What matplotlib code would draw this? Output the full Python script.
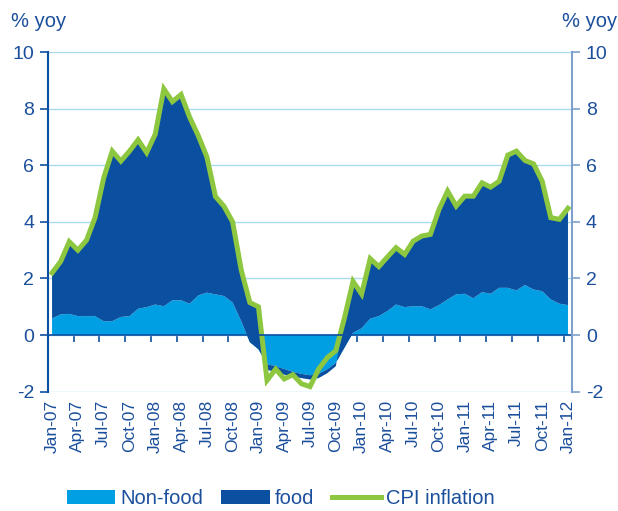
import numpy as np
import matplotlib
matplotlib.use("Agg")
import matplotlib.pyplot as plt
from matplotlib.patches import Patch
from matplotlib.lines import Line2D

plt.rcParams['font.family'] = ['Liberation Sans', 'DejaVu Sans']
plt.rcParams['axes.unicode_minus'] = False

# monthly, Jan-07 .. Jan-12
tick_labels = ['Jan-07', 'Apr-07', 'Jul-07', 'Oct-07', 'Jan-08', 'Apr-08', 'Jul-08',
               'Oct-08', 'Jan-09', 'Apr-09', 'Jul-09', 'Oct-09', 'Jan-10', 'Apr-10',
               'Jul-10', 'Oct-10', 'Jan-11', 'Apr-11', 'Jul-11', 'Oct-11', 'Jan-12']

non_food = [0.59, 0.73, 0.75, 0.67, 0.67, 0.67, 0.49, 0.49, 0.64, 0.67, 0.93, 0.99,
            1.08, 1.02, 1.23, 1.23, 1.11, 1.40, 1.50, 1.44, 1.38, 1.15, 0.49, -0.25,
            -0.50, -1.03, -1.10, -1.20, -1.30, -1.37, -1.42, -1.37, -1.21, -0.98, -0.45, 0.08,
            0.24, 0.58, 0.67, 0.85, 1.08, 0.99, 1.02, 1.02, 0.91, 1.06, 1.26, 1.44,
            1.46, 1.30, 1.52, 1.46, 1.67, 1.67, 1.58, 1.77, 1.61, 1.55, 1.26, 1.11,
            1.06]

food = [1.61, 1.87, 2.55, 2.33, 2.68, 3.48, 5.06, 6.01, 5.51, 5.83, 5.97, 5.46,
        6.02, 7.68, 7.02, 7.27, 6.59, 5.65, 4.80, 3.46, 3.17, 2.85, 1.81, 1.40,
        1.50, -0.20, -0.20, -0.20, -0.17, -0.15, -0.15, -0.15, -0.14, -0.12, 1.05, 1.82,
        1.21, 2.12, 1.75, 1.91, 2.01, 1.86, 2.30, 2.48, 2.65, 3.38, 3.83, 3.12,
        3.45, 3.61, 3.86, 3.77, 3.77, 4.69, 4.92, 4.40, 4.44, 3.89, 2.89, 2.98,
        3.42]

cpi = [2.20, 2.60, 3.30, 3.00, 3.35, 4.15, 5.55, 6.50, 6.15, 6.50, 6.90, 6.45,
       7.10, 8.70, 8.25, 8.50, 7.70, 7.05, 6.30, 4.90, 4.55, 4.00, 2.30, 1.15,
       1.00, -1.60, -1.20, -1.55, -1.40, -1.72, -1.82, -1.20, -0.80, -0.55, 0.60, 1.90,
       1.45, 2.70, 2.42, 2.76, 3.09, 2.85, 3.32, 3.50, 3.56, 4.44, 5.09, 4.56,
       4.91, 4.91, 5.38, 5.23, 5.44, 6.36, 6.50, 6.17, 6.05, 5.44, 4.15, 4.09,
       4.48]

light = '#009fe3'
dark = '#0a4fa0'
green = '#8dc63f'
text_c = '#1b4f9c'
grid_c = '#a9dcf3'

x = np.arange(len(cpi))

fig = plt.figure(figsize=(6.18, 5.11), dpi=100)
ax = fig.add_axes([0.0777, 0.2335, 0.8479, 0.6645])

ax.stackplot(x, non_food, food, colors=[light, dark], linewidth=0)
ax.plot(x, cpi, color=green, lw=3.6, solid_joinstyle='miter')

ax.set_xlim(-0.47, len(cpi) - 1 + 0.47)
ax.set_ylim(-2, 10)
ax.set_yticks(range(-2, 11, 2))
ax.yaxis.grid(True, color=grid_c, lw=1)
ax.set_axisbelow(True)

ax.spines['top'].set_visible(False)
ax.spines['right'].set_visible(False)
ax.spines['bottom'].set_position(('data', 0))
ax.spines['bottom'].set_color(dark)
ax.spines['bottom'].set_linewidth(1.2)
ax.spines['left'].set_color(dark)
ax.spines['left'].set_linewidth(1.5)

ax.set_xticks(np.arange(2.5, len(cpi) - 1, 3))
ax.tick_params(axis='x', direction='out', length=5, width=1.2, color=dark,
               labelbottom=False)
ax.tick_params(axis='y', direction='out', length=6, width=1.2, color=dark,
               labelsize=14, labelcolor=text_c, pad=4)

for i, lab in enumerate(tick_labels):
    ax.text(i * 3, -2.28, lab, rotation=90, ha='center', va='top',
            fontsize=12.5, color=text_c)

ax2 = ax.twinx()
ax2.set_ylim(-2, 10)
ax2.set_yticks(range(-2, 11, 2))
for s in ['top', 'bottom', 'left']:
    ax2.spines[s].set_visible(False)
ax2.spines['right'].set_color('#7f9fcc')
ax2.spines['right'].set_linewidth(1.5)
ax2.tick_params(axis='y', direction='out', length=6, width=1.2, color='#7f9fcc',
                labelsize=14, labelcolor=text_c, pad=4)

fig.text(0.018, 0.958, '% yoy', fontsize=14.5, color=text_c, va='center', ha='left')
fig.text(0.999, 0.958, '% yoy', fontsize=14.5, color=text_c, va='center', ha='right')

handles = [Patch(facecolor=light, edgecolor='none'),
           Patch(facecolor=dark, edgecolor='none'),
           Line2D([], [], color=green, lw=3.6)]
fig.legend(handles, ['Non-food', 'food', 'CPI inflation'], loc='center',
           bbox_to_anchor=(0.454, 0.025), ncol=3, frameon=False, fontsize=14.5,
           handlelength=2.4, handleheight=0.7, handletextpad=0.25,
           columnspacing=0.9, labelcolor=text_c)

fig.savefig('out.png', dpi=100)
